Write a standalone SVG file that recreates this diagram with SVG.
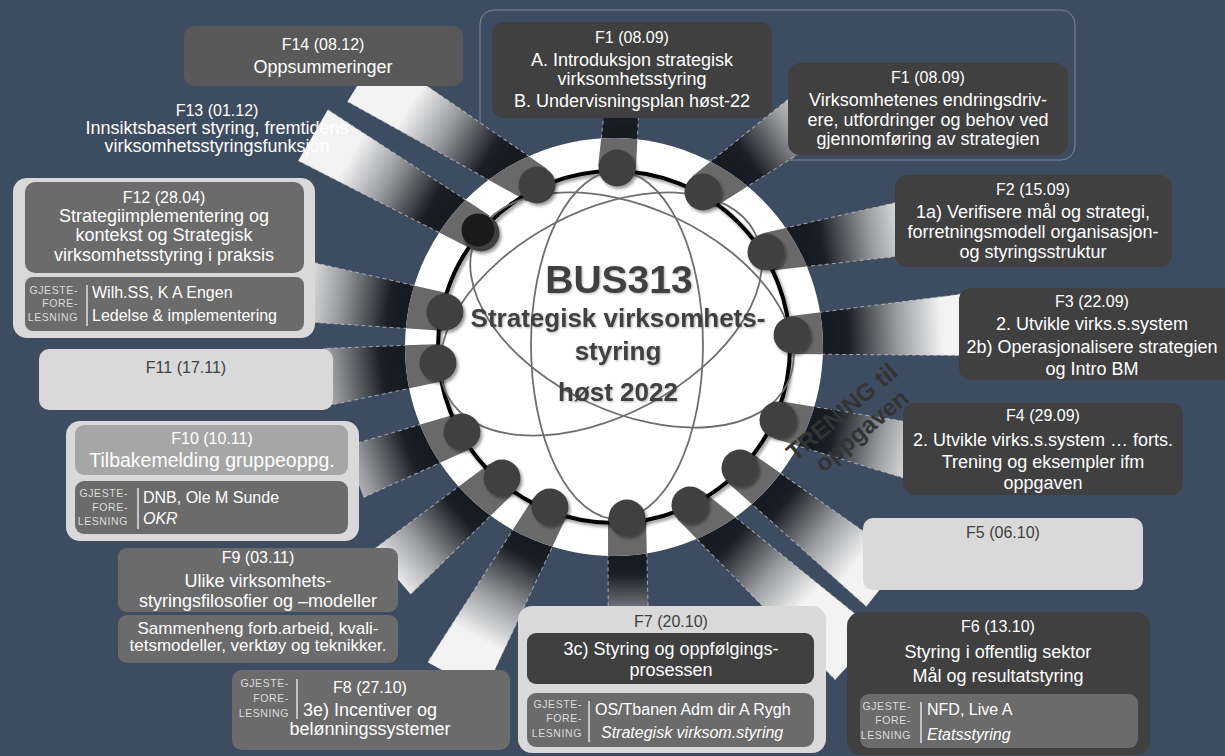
<svg xmlns="http://www.w3.org/2000/svg" width="1225" height="756" viewBox="0 0 1225 756">
  <defs>
    <style>
      .t{font-family:"Liberation Sans",Arial,sans-serif;fill:#fff;text-anchor:middle}
      .h{font-size:16px}
      .d{font-size:18px}
      .dk{fill:#404040}
      .g{font-family:"Liberation Sans",Arial,sans-serif;font-size:10.5px;fill:#dcdcdc;text-anchor:end;letter-spacing:0.6px}
      .gl{font-family:"Liberation Sans",Arial,sans-serif;font-size:16px;fill:#fff}
      .it{font-style:italic}
      .bxd{fill:#404040}
      .bxm{fill:#6b6b6b}
      .bxl{fill:#d9d9d9}
      .bxs{fill:#595959}
      .div{stroke:#e0e0e0;stroke-width:1.5}
      .beam{fill:url(#beamGrad)}
      .band{fill:#696969}
      .edge{fill:none;stroke:#c8c8c8;stroke-width:1;stroke-dasharray:4 3;opacity:.75}
      .atom{fill:none;stroke:#6e6e6e;stroke-width:1.8}
      .dot{fill:#404040;filter:url(#sh)}
      .ttl{font-family:"Liberation Sans",Arial,sans-serif;font-weight:bold;fill:#404040;text-anchor:middle}
      .tr{font-family:"Liberation Sans",Arial,sans-serif;font-weight:bold;fill:#333;text-anchor:middle;font-size:24px}
    </style>
    <linearGradient id="beamGrad" gradientUnits="userSpaceOnUse" x1="40" y1="0" x2="150" y2="0">
      <stop offset="0" stop-color="#161a21"/>
      <stop offset="0.15" stop-color="#1a1f28"/>
      <stop offset="0.6" stop-color="#9a9ca0"/>
      <stop offset="1" stop-color="#f3f3f3"/>
    </linearGradient>
    <clipPath id="discClip">
      <circle cx="614" cy="347" r="209"/>
    </clipPath>
    <filter id="sh" x="-40%" y="-40%" width="180%" height="180%">
      <feDropShadow dx="2" dy="2.5" stdDeviation="1.5" flood-color="#000" flood-opacity="0.4"/>
    </filter>
    <filter id="tsh" x="-10%" y="-20%" width="120%" height="140%">
      <feDropShadow dx="1" dy="1" stdDeviation="1" flood-color="#000" flood-opacity="0.3"/>
    </filter>
  </defs>

  <!-- background -->
  <rect width="1225" height="756" fill="#3e4c61"/>

  <!-- frame around the two F1 sessions -->
  <rect x="480" y="10" width="595" height="150" rx="14" fill="none" stroke="#a8b0bc" stroke-opacity="0.6"/>

  <!-- spokes from the hub out to each session -->
  <g id="connectors">
    <g transform="translate(617,168) rotate(-85.4)"><polygon class="beam" points="0,-19 62,-17 62,17 0,19"/><path class="edge" d="M0,-19L62,-17M0,19L62,17"/></g>
    <g transform="translate(703,192) rotate(-35.5)"><polygon class="beam" points="0,-19 125,-26 125,26 0,19"/><path class="edge" d="M0,-19L125,-26M0,19L125,26"/></g>
    <g transform="translate(766,252) rotate(-9.7)"><polygon class="beam" points="0,-19 140,-27 140,27 0,19"/><path class="edge" d="M0,-19L140,-27M0,19L140,27"/></g>
    <g transform="translate(792,335) rotate(-3.4)"><polygon class="beam" points="0,-19 175,-31 175,31 0,19"/><path class="edge" d="M0,-19L175,-31M0,19L175,31"/></g>
    <g transform="translate(778,420) rotate(13.1)"><polygon class="beam" points="0,-19 135,-28 135,28 0,19"/><path class="edge" d="M0,-19L135,-28M0,19L135,28"/></g>
    <g transform="translate(740,468) rotate(38.4)"><polygon class="beam" points="0,-19 185,-30 185,30 0,19"/><path class="edge" d="M0,-19L185,-30M0,19L185,30"/></g>
    <g transform="translate(690,505) rotate(42.2)"><polygon class="beam" points="0,-19 225,-32 225,32 0,19"/><path class="edge" d="M0,-19L225,-32M0,19L225,32"/></g>
    <g transform="translate(627,518) rotate(89.3)"><polygon class="beam" points="0,-19 95,-20 95,20 0,19"/><path class="edge" d="M0,-19L95,-20M0,19L95,20"/></g>
    <g transform="translate(550,507) rotate(118.9)"><polygon class="beam" points="0,-19 195,-32 195,32 0,19"/><path class="edge" d="M0,-19L195,-32M0,19L195,32"/></g>
    <g transform="translate(502,478) rotate(139.5)"><polygon class="beam" points="0,-19 145,-29 145,29 0,19"/><path class="edge" d="M0,-19L145,-29M0,19L145,29"/></g>
    <g transform="translate(462,432) rotate(159.6)"><polygon class="beam" points="0,-19 115,-27 115,27 0,19"/><path class="edge" d="M0,-19L115,-27M0,19L115,27"/></g>
    <g transform="translate(438,363) rotate(172.9)"><polygon class="beam" points="0,-19 112,-28.5 112,28.5 0,19"/><path class="edge" d="M0,-19L112,-28.5M0,19L112,28.5"/></g>
    <g transform="translate(445,312) rotate(-171.7)"><polygon class="beam" points="0,-19 138,-30 138,30 0,19"/><path class="edge" d="M0,-19L138,-30M0,19L138,30"/></g>
    <g transform="translate(480,232) rotate(-149.9)"><polygon class="beam" points="0,-19 193,-29.5 193,29.5 0,19"/><path class="edge" d="M0,-19L193,-29.5M0,19L193,29.5"/></g>
    <g transform="translate(537,185) rotate(-148.2)"><polygon class="beam" points="0,-19 205,-29 205,29 0,19"/><path class="edge" d="M0,-19L205,-29M0,19L205,29"/></g>
  </g>

  <!-- central hub -->
  <g id="hub">
    <circle cx="614" cy="347" r="209" fill="#fff"/>
    <g clip-path="url(#discClip)">
      <polygon class="band" transform="translate(617,168) rotate(-85.4)" points="0,-19 62,-17 62,17 0,19"/>
      <polygon class="band" transform="translate(703,192) rotate(-35.5)" points="0,-19 125,-26 125,26 0,19"/>
      <polygon class="band" transform="translate(766,252) rotate(-9.7)" points="0,-19 140,-27 140,27 0,19"/>
      <polygon class="band" transform="translate(792,335) rotate(-3.4)" points="0,-19 175,-31 175,31 0,19"/>
      <polygon class="band" transform="translate(778,420) rotate(13.1)" points="0,-19 135,-28 135,28 0,19"/>
      <polygon class="band" transform="translate(740,468) rotate(38.4)" points="0,-19 185,-30 185,30 0,19"/>
      <polygon class="band" transform="translate(690,505) rotate(42.2)" points="0,-19 225,-32 225,32 0,19"/>
      <polygon class="band" transform="translate(627,518) rotate(89.3)" points="0,-19 95,-20 95,20 0,19"/>
      <polygon class="band" transform="translate(550,507) rotate(118.9)" points="0,-19 195,-32 195,32 0,19"/>
      <polygon class="band" transform="translate(502,478) rotate(139.5)" points="0,-19 145,-29 145,29 0,19"/>
      <polygon class="band" transform="translate(462,432) rotate(159.6)" points="0,-19 115,-27 115,27 0,19"/>
      <polygon class="band" transform="translate(438,363) rotate(172.9)" points="0,-19 112,-28.5 112,28.5 0,19"/>
      <polygon class="band" transform="translate(445,312) rotate(-171.7)" points="0,-19 138,-30 138,30 0,19"/>
      <polygon class="band" transform="translate(480,232) rotate(-149.9)" points="0,-19 193,-29.5 193,29.5 0,19"/>
      <polygon class="band" transform="translate(537,185) rotate(-148.2)" points="0,-19 205,-29 205,29 0,19"/>
    </g>
    <circle cx="614" cy="347" r="176" fill="none" stroke="#000" stroke-width="4" filter="url(#sh)"/>
    <!-- atom orbits -->
    <ellipse class="atom" cx="617" cy="345" rx="86" ry="174"/>
    <ellipse class="atom" cx="632" cy="310" rx="172" ry="102" transform="rotate(25 632 310)"/>
    <ellipse class="atom" cx="601" cy="314" rx="174" ry="102" transform="rotate(-28 601 314)"/>
    <!-- session markers on the ring -->
    <circle class="dot" cx="617" cy="168" r="18.5"/>
    <circle class="dot" cx="703" cy="192" r="18.5"/>
    <circle class="dot" cx="766" cy="252" r="18.5"/>
    <circle class="dot" cx="792" cy="335" r="18.5"/>
    <circle class="dot" cx="778" cy="420" r="18.5"/>
    <circle class="dot" cx="740" cy="468" r="18.5"/>
    <circle class="dot" cx="690" cy="505" r="18.5"/>
    <circle class="dot" cx="627" cy="518" r="18.5"/>
    <circle class="dot" cx="550" cy="507" r="18.5"/>
    <circle class="dot" cx="502" cy="478" r="18.5"/>
    <circle class="dot" cx="462" cy="432" r="18.5"/>
    <circle class="dot" cx="438" cy="363" r="18.5"/>
    <circle class="dot" cx="445" cy="312" r="18.5"/>
    <circle class="dot" cx="481" cy="233" r="18.5"/>
    <circle cx="478" cy="230" r="16.5" fill="#1a1a1a"/>
    <circle class="dot" cx="537" cy="185" r="18.5"/>
    <g filter="url(#tsh)">
      <text class="ttl" x="619" y="293" font-size="39">BUS313</text>
      <text class="ttl" x="618" y="327" font-size="26">Strategisk virksomhets-</text>
      <text class="ttl" x="618" y="360" font-size="26">styring</text>
      <text class="ttl" x="618" y="401" font-size="26">høst 2022</text>
    </g>
  </g>

  <g id="F1A">
    <rect class="bxd" x="492" y="22" width="280" height="96" rx="12"/>
    <text class="t h" x="632" y="43">F1 (08.09)</text>
    <text class="t d" x="632" y="66">A. Introduksjon strategisk</text>
    <text class="t d" x="632" y="85">virksomhetsstyring</text>
    <text class="t d" x="632" y="107">B. Undervisningsplan høst-22</text>
  </g>

  <g id="F1B">
    <rect class="bxd" x="788" y="63" width="280" height="92" rx="12"/>
    <text class="t h" x="928" y="83">F1 (08.09)</text>
    <text class="t d" x="928" y="106">Virksomhetenes endringsdriv-</text>
    <text class="t d" x="928" y="126">ere, utfordringer og behov ved</text>
    <text class="t d" x="928" y="145">gjennomføring av strategien</text>
  </g>

  <g id="F2">
    <rect class="bxd" x="895" y="175" width="277" height="92" rx="12"/>
    <text class="t h" x="1033" y="195">F2 (15.09)</text>
    <text class="t d" x="1033" y="218">1a) Verifisere mål og strategi,</text>
    <text class="t d" x="1033" y="238">forretningsmodell organisasjon-</text>
    <text class="t d" x="1033" y="258">og styringsstruktur</text>
  </g>

  <g id="F3">
    <rect class="bxd" x="959" y="288" width="290" height="92" rx="12"/>
    <text class="t h" x="1092" y="307">F3 (22.09)</text>
    <text class="t d" x="1092" y="330">2. Utvikle virks.s.system</text>
    <text class="t d" x="1092" y="353">2b) Operasjonalisere strategien</text>
    <text class="t d" x="1092" y="375">og Intro BM</text>
  </g>

  <g id="F4">
    <rect class="bxd" x="903" y="403" width="280" height="92" rx="12"/>
    <text class="t h" x="1043" y="421">F4 (29.09)</text>
    <text class="t d" x="1043" y="446">2. Utvikle virks.s.system … forts.</text>
    <text class="t d" x="1043" y="468">Trening og eksempler ifm</text>
    <text class="t d" x="1043" y="489">oppgaven</text>
  </g>

  <g id="F5">
    <rect class="bxl" x="863" y="518" width="280" height="72" rx="10"/>
    <text class="t h dk" x="1003" y="538">F5 (06.10)</text>
  </g>

  <g id="F6">
    <rect class="bxd" x="847" y="612" width="303" height="143" rx="14"/>
    <text class="t h" x="998" y="632">F6 (13.10)</text>
    <text class="t d" x="998" y="658">Styring i offentlig sektor</text>
    <text class="t d" x="998" y="682">Mål og resultatstyring</text>
    <rect class="bxm" x="860" y="694" width="278" height="54" rx="9"/>
    <text class="g" x="911" y="710">GJESTE-</text>
    <text class="g" x="911" y="724">FORE-</text>
    <text class="g" x="911" y="739">LESNING</text>
    <line class="div" x1="921" y1="702" x2="921" y2="743"/>
    <text class="gl" x="927" y="715">NFD, Live A</text>
    <text class="gl it" x="927" y="740" font-size="18">Etatsstyring</text>
  </g>

  <g id="F7">
    <rect class="bxl" x="518" y="606" width="308" height="147" rx="14"/>
    <text class="t h dk" x="671" y="627">F7 (20.10)</text>
    <rect class="bxd" x="527" y="633" width="287" height="51" rx="9"/>
    <text class="t d" x="671" y="655">3c) Styring og oppfølgings-</text>
    <text class="t d" x="671" y="676">prosessen</text>
    <rect class="bxm" x="527" y="693" width="287" height="54" rx="9"/>
    <text class="g" x="582" y="708">GJESTE-</text>
    <text class="g" x="582" y="722">FORE-</text>
    <text class="g" x="582" y="737">LESNING</text>
    <line class="div" x1="589" y1="701" x2="589" y2="742"/>
    <text class="gl" x="595" y="715">OS/Tbanen Adm dir A Rygh</text>
    <text class="gl it" x="601" y="738">Strategisk virksom.styring</text>
  </g>

  <g id="F8">
    <rect class="bxm" x="232" y="670" width="278" height="80" rx="10"/>
    <text class="g" x="289" y="687">GJESTE-</text>
    <text class="g" x="289" y="702">FORE-</text>
    <text class="g" x="289" y="717">LESNING</text>
    <line class="div" x1="297" y1="679" x2="297" y2="719"/>
    <text class="t h" x="370" y="693">F8 (27.10)</text>
    <text class="t d" x="370" y="716">3e) Incentiver og</text>
    <text class="t d" x="370" y="735">belønningssystemer</text>
  </g>

  <g id="F9">
    <rect class="bxm" x="118" y="548" width="280" height="64" rx="9"/>
    <text class="t h" x="258" y="563">F9 (03.11)</text>
    <text class="t d" x="258" y="587">Ulike virksomhets-</text>
    <text class="t d" x="258" y="607">styringsfilosofier og –modeller</text>
    <rect class="bxm" x="118" y="615" width="280" height="48" rx="9"/>
    <text class="t" x="258" y="634" font-size="17">Sammenheng forb.arbeid, kvali-</text>
    <text class="t" x="258" y="651" font-size="17">tetsmodeller, verktøy og teknikker.</text>
  </g>

  <g id="F10">
    <rect class="bxl" x="66" y="421" width="293" height="120" rx="14"/>
    <rect x="75" y="425" width="273" height="50" rx="9" fill="#a6a6a6"/>
    <text class="t h" x="212" y="444">F10 (10.11)</text>
    <text class="t" x="212" y="467" font-size="19.5">Tilbakemelding gruppeoppg.</text>
    <rect class="bxm" x="75" y="481" width="273" height="53" rx="9"/>
    <text class="g" x="128" y="497">GJESTE-</text>
    <text class="g" x="128" y="511">FORE-</text>
    <text class="g" x="128" y="525">LESNING</text>
    <line class="div" x1="138" y1="488" x2="138" y2="529"/>
    <text class="gl" x="143" y="503">DNB, Ole M Sunde</text>
    <text class="gl it" x="143" y="524" font-size="18">OKR</text>
  </g>

  <g id="F11">
    <rect class="bxl" x="39" y="349" width="294" height="61" rx="10"/>
    <text class="t h dk" x="186" y="373">F11 (17.11)</text>
  </g>

  <g id="F12">
    <rect class="bxl" x="13" y="178" width="302" height="160" rx="14"/>
    <rect class="bxm" x="25" y="182" width="279" height="91" rx="10"/>
    <text class="t h" x="164" y="203">F12 (28.04)</text>
    <text class="t d" x="164" y="222">Strategiimplementering og</text>
    <text class="t d" x="164" y="241">kontekst og Strategisk</text>
    <text class="t d" x="164" y="261">virksomhetsstyring i praksis</text>
    <rect class="bxm" x="25" y="277" width="279" height="54" rx="8"/>
    <text class="g" x="78" y="294">GJESTE-</text>
    <text class="g" x="78" y="307">FORE-</text>
    <text class="g" x="78" y="321">LESNING</text>
    <line class="div" x1="87" y1="285" x2="87" y2="326"/>
    <text class="gl" x="92" y="298">Wilh.SS, K A Engen</text>
    <text class="gl" x="92" y="321">Ledelse &amp; implementering</text>
  </g>

  <g id="F13">
    <text class="t h" x="217" y="116">F13 (01.12)</text>
    <text class="t d" x="217" y="134">Innsiktsbasert styring, fremtidens</text>
    <text class="t d" x="217" y="152">virksomhetsstyringsfunksjon</text>
  </g>

  <g id="F14">
    <rect class="bxs" x="184" y="26" width="279" height="60" rx="10"/>
    <text class="t h" x="323" y="50">F14 (08.12)</text>
    <text class="t d" x="323" y="73">Oppsummeringer</text>
  </g>

  <!-- caption for the training block -->
  <g id="trening" transform="translate(842,412) rotate(-40)">
    <text class="tr" y="8">TRENING til</text>
    <text class="tr" x="3" y="35">oppgaven</text>
  </g>
</svg>
